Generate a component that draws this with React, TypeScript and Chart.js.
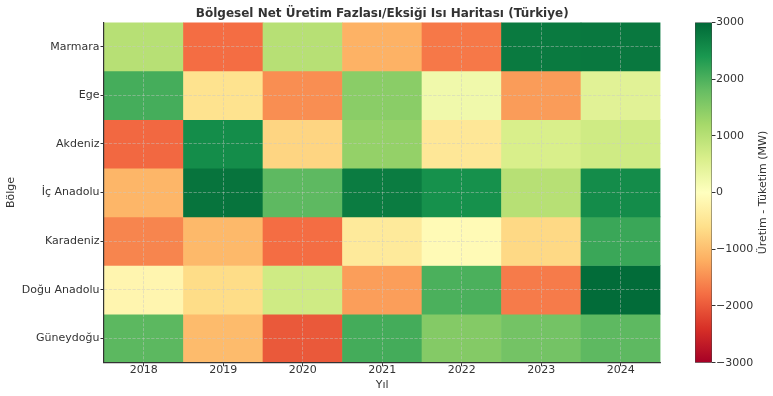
import React, { useEffect, useRef } from 'react';
import { Chart, registerables } from 'chart.js';

Chart.register(...registerables);

// ---------- data ----------
const years = ['2018', '2019', '2020', '2021', '2022', '2023', '2024'];
const regions = ['Marmara', 'Ege', 'Akdeniz', 'İç Anadolu', 'Karadeniz', 'Doğu Anadolu', 'Güneydoğu'];

const marmara = [1000, -1800, 1000, -1150, -1700, 2780, 2800];
const ege = [2060, -550, -1500, 1460, 230, -1370, 470];
const akdeniz = [-1850, 2540, -730, 1370, -460, 600, 720];
const icAnadolu = [-1100, 2850, 1860, 2750, 2490, 1000, 2550];
const karadeniz = [-1580, -1070, -1800, -410, -100, -680, 2150];
const doguAnadolu = [-190, -640, 720, -1350, 2010, -1670, 2950];
const guneydogu = [1880, -1050, -2000, 2070, 1520, 1670, 1860];

const rows = [marmara, ege, akdeniz, icAnadolu, karadeniz, doguAnadolu, guneydogu];

const colorbarTicks = [3000, 2000, 1000, 0, -1000, -2000, -3000];
const vMin = -3000;
const vMax = 3000;

const chartTitle = 'Bölgesel Net Üretim Fazlası/Eksiği Isı Haritası (Türkiye)';
const xTitle = 'Yıl';
const yTitle = 'Bölge';
const cbTitle = 'Üretim - Tüketim (MW)';

// ---------- colormap (RdYlGn) ----------
const RDYLGN = ['#a50026', '#d73027', '#f46d43', '#fdae61', '#fee08b', '#ffffbf', '#d9ef8b', '#a6d96a', '#66bd63', '#1a9850', '#006837'];

function hexToRgb(h: string) {
  const n = parseInt(h.slice(1), 16);
  return [(n >> 16) & 255, (n >> 8) & 255, n & 255];
}
const RGB = RDYLGN.map(hexToRgb);

function colorAt(t: number) {
  const tt = Math.max(0, Math.min(1, t));
  const pos = tt * 10;
  const i = Math.min(9, Math.floor(pos));
  const f = pos - i;
  const a = RGB[i];
  const b = RGB[i + 1];
  const c = a.map((v, k) => Math.round(v + (b[k] - v) * f));
  return `rgb(${c[0]},${c[1]},${c[2]})`;
}
function colorFor(v: number) {
  return colorAt((v - vMin) / (vMax - vMin));
}

const FONT = 'DejaVu Sans';
const TEXT = '#333333';
const GRID = 'rgba(200,200,200,0.55)';

export default function App() {
  const mainRef = useRef<HTMLCanvasElement>(null);
  const cbRef = useRef<HTMLCanvasElement>(null);

  useEffect(() => {
    const titlePlugin = {
      id: 'mainTitle',
      afterDraw(chart: any) {
        const { ctx, chartArea } = chart;
        ctx.save();
        ctx.font = `bold 12px "${FONT}"`;
        ctx.fillStyle = TEXT;
        ctx.textAlign = 'center';
        ctx.textBaseline = 'alphabetic';
        ctx.fillText(chartTitle, (chartArea.left + chartArea.right) / 2, 16.7);
        ctx.restore();
      },
    };

    const datasets = regions.map((name, r) => ({
      label: name,
      data: rows[r].map(() => [r - 0.5, r + 0.5]),
      backgroundColor: rows[r].map(colorFor),
      borderWidth: 0,
      barPercentage: 1,
      categoryPercentage: 1,
      grouped: false,
    }));

    const main = new Chart(mainRef.current!, {
      type: 'bar',
      data: { labels: years, datasets: datasets as any },
      options: {
        responsive: false,
        animation: false,
        devicePixelRatio: 1,
        layout: { padding: { top: 22.4, right: 773 - 660.5, left: 0, bottom: 0 } },
        plugins: { legend: { display: false }, tooltip: { enabled: false }, title: { display: false } },
        scales: {
          x: {
            type: 'category',
            offset: true,
            grid: { offset: false, color: GRID, lineWidth: 0.8, z: 1, tickLength: 3.5, tickColor: TEXT, tickWidth: 1 },
            border: { display: true, color: TEXT, width: 1.2, dash: [3.3, 1.4], z: 1 },
            ticks: { color: TEXT, font: { family: FONT, size: 11 }, padding: -3, maxRotation: 0 },
            title: { display: true, text: xTitle, color: TEXT, font: { family: FONT, size: 11 }, padding: { top: 0, bottom: 4.5 } },
            afterFit: (s: any) => { s.height = 33.3; },
          },
          y: {
            type: 'linear',
            reverse: true,
            min: -0.5,
            max: 6.5,
            afterBuildTicks: (s: any) => { s.ticks = regions.map((_, i) => ({ value: i })); },
            grid: { color: GRID, lineWidth: 0.8, z: 1, tickLength: 3.5, tickColor: TEXT, tickWidth: 1 },
            border: { display: true, color: TEXT, width: 1.2, dash: [3.3, 1.4], z: 1 },
            ticks: { color: TEXT, font: { family: FONT, size: 11 }, padding: 1, autoSkip: false, callback: (v: any) => regions[v] ?? '' },
            title: { display: true, text: yTitle, color: TEXT, font: { family: FONT, size: 11 }, padding: { top: 5, bottom: 0 } },
            afterFit: (s: any) => { s.width = 104; },
          },
        },
      } as any,
      plugins: [titlePlugin],
    });

    const cbTitlePlugin = {
      id: 'cbTitle',
      afterDraw(chart: any) {
        const { ctx, chartArea } = chart;
        ctx.save();
        ctx.translate(83, (chartArea.top + chartArea.bottom) / 2);
        ctx.rotate(-Math.PI / 2);
        ctx.font = `11px "${FONT}"`;
        ctx.fillStyle = TEXT;
        ctx.textAlign = 'center';
        ctx.textBaseline = 'middle';
        ctx.fillText(cbTitle, 0, 0);
        ctx.restore();
      },
    };

    const gradientFill = (c: any) => {
      const chart = c.chart;
      const area = chart.chartArea;
      if (!area) return RDYLGN[5];
      const g = chart.ctx.createLinearGradient(0, area.bottom, 0, area.top);
      RDYLGN.forEach((col, i) => g.addColorStop(i / 10, col));
      return g;
    };

    const cb = new Chart(cbRef.current!, {
      type: 'bar',
      data: {
        labels: [''],
        datasets: [{
          data: [[vMin, vMax]],
          backgroundColor: gradientFill,
          borderColor: '#444',
          borderWidth: 0.8,
          borderSkipped: false,
          barPercentage: 1,
          categoryPercentage: 1,
        }] as any,
      },
      options: {
        responsive: false,
        animation: false,
        devicePixelRatio: 1,
        layout: { padding: { left: 15, top: 22.4, bottom: 33.3, right: 0 } },
        plugins: { legend: { display: false }, tooltip: { enabled: false } },
        scales: {
          x: { display: false },
          y: {
            position: 'right',
            min: vMin,
            max: vMax,
            afterBuildTicks: (s: any) => { s.ticks = colorbarTicks.map((v) => ({ value: v })); },
            grid: { drawOnChartArea: false, tickLength: 3.5, tickColor: TEXT, tickWidth: 1 },
            border: { display: false },
            ticks: {
              color: TEXT,
              font: { family: FONT, size: 11 },
              padding: 0.5,
              callback: (v: any) => (v < 0 ? '\u2212' + Math.abs(v) : String(v)),
            },
            afterFit: (s: any) => { s.width = 61; },
          },
        },
      } as any,
      plugins: [cbTitlePlugin],
    });

    return () => {
      main.destroy();
      cb.destroy();
    };
  }, []);

  return (
    <div style={{ position: 'fixed', left: 0, top: 0, width: 773, height: 396, background: '#fff' }}>
      <canvas ref={mainRef} width={773} height={396} style={{ position: 'absolute', left: 0, top: 0, width: 773, height: 396 }} />
      <canvas ref={cbRef} width={93} height={396} style={{ position: 'absolute', left: 680, top: 0, width: 93, height: 396 }} />
    </div>
  );
}
